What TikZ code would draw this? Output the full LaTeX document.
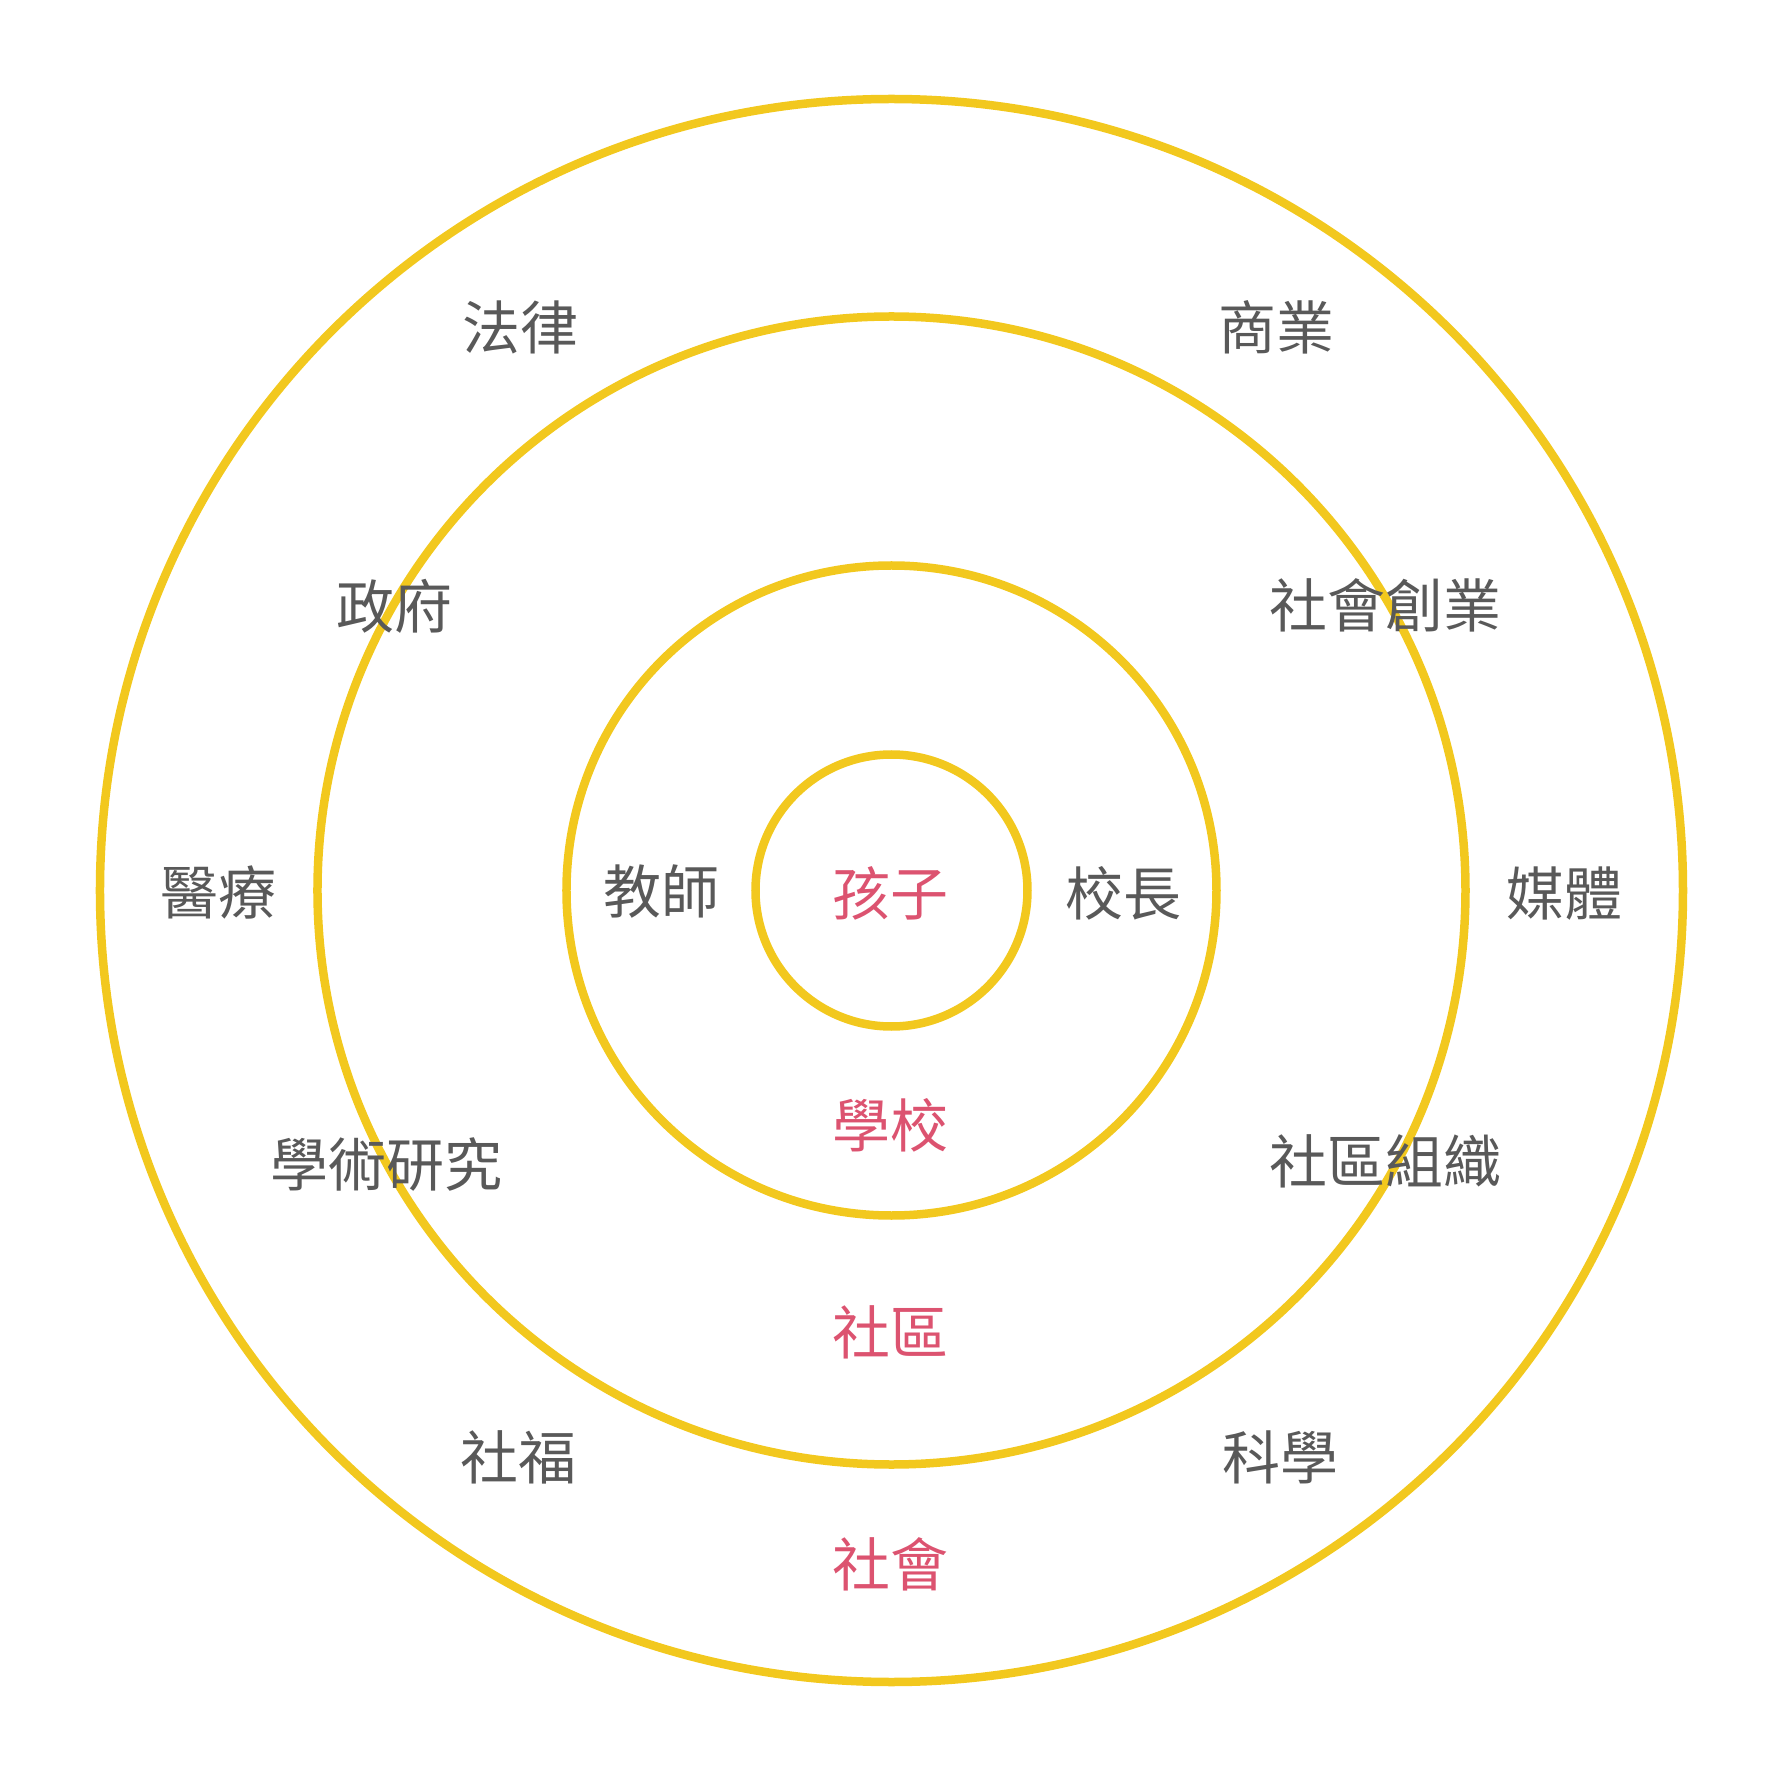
\documentclass[tikz,border=0pt]{standalone}
\usepackage{fontspec}
\setmainfont{Noto Sans CJK TC}
\usepackage{xcolor}
\definecolor{ringyellow}{HTML}{F2C81E}
\definecolor{labelgray}{HTML}{595959}
\definecolor{corepink}{HTML}{DC5370}
\usetikzlibrary{positioning}
\tikzset{
ring/.style={draw=ringyellow, line width=0.085cm}, % the four circles
plain label/.style={text=labelgray, inner sep=0pt, font=\fontsize{16.5pt}{20pt}\selectfont},
core label/.style={plain label, text=corepink},
}

\begin{document}
\begin{tikzpicture}
\useasboundingbox (-8.905,-8.905) rectangle (8.905,8.905);

\coordinate (centre) at (0.01,0);
\draw[ring] (centre) circle (1.36);
\draw[ring] (centre) circle (3.25);
\draw[ring] (centre) circle (5.74);
\draw[ring] (centre) circle (7.915);

% ring names
\node[core label] (child) at (0,-0.03) {孩子};
\node[core label] (school) at (0,-2.35) {學校};
\node[core label] (community) at (0,-4.42) {社區};
\node[core label] (society) at (0,-6.74) {社會};

% school ring
\node[plain label] (teacher) at (-2.29,-0.01) {教師};
\node[plain label] (principal) at (2.33,-0.03) {校長};

% community ring
\node[plain label] (gov) at (-4.96,2.84) {政府};
\node[plain label] (socent) at (4.95,2.85) {社會創業};
\node[plain label] (research) at (-5.04,-2.74) {學術研究};
\node[plain label] (commorg) at (4.95,-2.71) {社區組織};

% society ring
\node[plain label] (law) at (-3.70,5.63) {法律};
\node[plain label] (business) at (3.86,5.63) {商業};
\node[plain label] (medical) at (-6.72,-0.02) {醫療};
\node[plain label] (media) at (6.74,-0.03) {媒體};
\node[plain label] (welfare) at (-3.72,-5.67) {社福};
\node[plain label] (science) at (3.90,-5.67) {科學};

\end{tikzpicture}
\end{document}
